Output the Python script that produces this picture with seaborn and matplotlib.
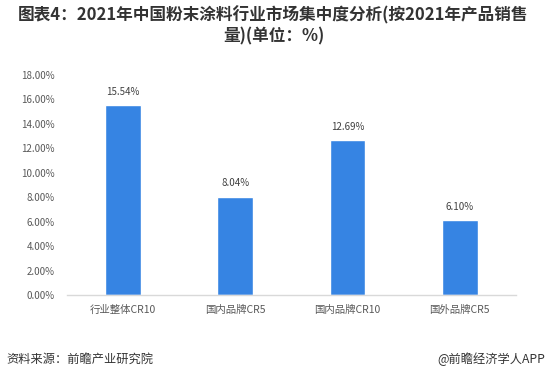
import matplotlib
matplotlib.use("Agg")
import matplotlib.pyplot as plt
import seaborn as sns
import pandas as pd

categories = ["行业整体CR10", "国内品牌CR5", "国内品牌CR10", "国外品牌CR5"]
values = [15.54, 8.04, 12.69, 6.10]
yticks = [0, 2, 4, 6, 8, 10, 12, 14, 16, 18]

sns.set_theme(style="white")
plt.rcParams['font.family'] = ['Noto Sans CJK SC', 'DejaVu Sans']

df = pd.DataFrame({"cat": categories, "val": values})

fig = plt.figure(figsize=(5.47, 3.82), dpi=100)
ax = fig.add_axes([0.1225, 0.2277, 0.8205, 0.576])
sns.barplot(data=df, x="cat", y="val", color="#3684e3", saturation=1, width=0.32, ax=ax)

ax.set_ylim(0, 18)
ax.set_xlim(-0.5, 3.5)
ax.set_yticks(yticks)
ax.set_yticklabels([f"{t:.2f}%" for t in yticks], fontsize=7, color="#595959")
ax.tick_params(axis='x', labelsize=7.5, labelcolor="#595959", length=0, pad=7)
ax.tick_params(axis='y', length=0, pad=9)
ax.set_xlabel("")
ax.set_ylabel("")
for s in ["top", "right", "left"]:
    ax.spines[s].set_visible(False)
ax.spines["bottom"].set_color("#d9d9d9")
ax.spines["bottom"].set_linewidth(1)

for i, v in enumerate(values):
    ax.annotate(f"{v:.2f}%", (i, v), xytext=(0, 6), textcoords="offset points",
                ha="center", va="bottom", fontsize=7, color="#404040")

fig.text(0.5, 0.96, "图表4：2021年中国粉末涂料行业市场集中度分析(按2021年产品销售",
         ha="center", va="center", fontsize=12, fontweight="bold", color="#333333")
fig.text(0.5, 0.905, "量)(单位：%)",
         ha="center", va="center", fontsize=12, fontweight="bold", color="#333333")
fig.text(0.012, 0.06, "资料来源：前瞻产业研究院", ha="left", va="center", fontsize=8.8, color="#333333")
fig.text(0.997, 0.06, "@前瞻经济学人APP", ha="right", va="center", fontsize=8.8, color="#333333")

fig.savefig("out.png", dpi=100)
